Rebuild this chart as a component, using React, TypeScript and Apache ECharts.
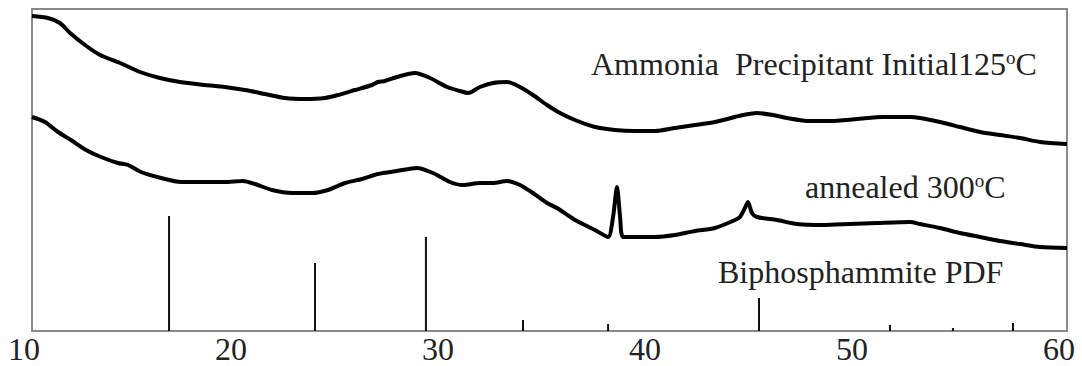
import React, { useEffect, useRef } from "react";
import * as echarts from "echarts";

// 2θ (degrees) and intensity (a.u.)
const initialX = [10.0, 10.77, 11.35, 11.84, 12.56, 13.29, 14.25, 15.22, 16.18, 17.15, 18.36, 19.32, 20.29, 21.26, 22.22, 23.19, 24.15, 24.78, 25.6, 26.43, 26.71, 27.05, 27.63, 28.5, 29.23, 30.05, 30.68, 31.06, 31.64, 32.27, 32.95, 33.57, 34.2, 34.88, 35.51, 36.23, 37.2, 38.16, 39.13, 40.1, 41.06, 42.03, 42.99, 43.96, 44.35, 45.02, 45.8, 46.47, 47.58, 48.55, 49.86, 51.11, 52.42, 52.9, 53.86, 54.83, 55.8, 56.76, 57.73, 58.7, 60.0];
const initialY = [315, 313, 308, 298, 286, 276, 268, 259, 253, 249, 246, 244, 241, 237, 233, 232, 233, 236, 241, 246, 249, 250, 254, 258, 253, 244, 240, 238, 244, 248, 249, 244, 236, 226, 218, 211, 204, 201, 200, 200, 203, 206, 209, 214, 216, 218, 216, 213, 210, 210, 212, 214, 214, 213, 209, 204, 199, 196, 193, 189, 187];

const annealedX = [10.0, 10.63, 11.26, 11.88, 12.61, 13.33, 14.15, 14.64, 15.27, 16.23, 17.2, 18.36, 19.32, 20.19, 20.77, 21.59, 22.56, 23.53, 24.3, 25.12, 25.94, 26.71, 27.63, 28.6, 29.37, 30.19, 30.82, 31.64, 32.27, 32.95, 33.57, 34.2, 34.88, 35.36, 36.23, 37.2, 37.83, 38.07, 38.26, 38.41, 38.55, 39.13, 40.1, 41.06, 42.03, 42.99, 43.96, 44.2, 44.44, 44.59, 44.78, 45.02, 45.99, 46.96, 48.21, 49.52, 50.82, 52.42, 52.9, 53.86, 54.83, 55.8, 56.76, 57.73, 58.7, 60.0];
const annealedY = [214, 209, 199, 191, 181, 174, 168, 166, 159, 153, 149, 149, 149, 150, 147, 141, 138, 138, 141, 148, 152, 157, 160, 163, 158, 149, 146, 148, 148, 150, 146, 138, 128, 123, 111, 101, 94, 114, 144, 114, 94, 94, 94, 96, 100, 103, 111, 114, 123, 129, 118, 114, 111, 107, 106, 107, 108, 109, 107, 103, 98, 94, 90, 87, 84, 83];

const pdfX = [16.62, 23.67, 29.03, 33.72, 37.83, 45.12, 51.45, 54.49, 57.39];
const pdfY = [115, 68, 94, 11, 7, 33, 6, 3, 8];

const xTicks = [10, 20, 30, 40, 50, 60];

const labelInitial = "Ammonia  Precipitant Initial125{sup|o}C";
const labelAnnealed = "annealed 300{sup|o}C";
const labelPdf = "Biphosphammite PDF";

const FONT = "'Liberation Serif', 'Times New Roman', serif";

export default function App() {
  const ref = useRef<HTMLDivElement>(null);

  useEffect(() => {
    document.body.style.margin = "0";
    if (!ref.current) return;
    const chart = echarts.init(ref.current, null, { renderer: "svg" });
    const zip = (xs: number[], ys: number[]) => xs.map((x, i) => [x, ys[i]]);
    const rich = {
      sup: { fontSize: 19, fontFamily: FONT, fill: "#222", verticalAlign: "top", padding: [0, 0, 14, 0] },
    } as any;
    const textStyle = (x: number, y: number, text: string) => ({
      type: "text",
      x,
      y,
      style: {
        text,
        fontSize: 32,
        fontFamily: FONT,
        fill: "#222",
        verticalAlign: "middle",
        rich,
      },
    });
    chart.setOption({
      animation: false,
      grid: {
        left: 32,
        right: 15,
        top: 9,
        bottom: 35,
        show: true,
        borderColor: "#8a8a8a",
        borderWidth: 2,
        backgroundColor: "#fff",
      },
      xAxis: {
        type: "value",
        min: 10,
        max: 60,
        interval: 10,
        axisLine: { show: false },
        axisTick: { show: false },
        splitLine: { show: false },
        axisLabel: {
          fontSize: 32,
          fontFamily: FONT,
          color: "#222",
          margin: 2,
          padding: [0, 16, 0, 0],
          formatter: (v: number) => (xTicks.includes(v) ? String(v) : ""),
        },
      },
      yAxis: {
        type: "value",
        min: 0,
        max: 322,
        show: false,
      },
      series: [
        {
          type: "line",
          data: zip(initialX, initialY),
          showSymbol: false,
          smooth: 0.25,
          lineStyle: { color: "#000", width: 4 },
        },
        {
          type: "line",
          data: zip(annealedX, annealedY),
          showSymbol: false,
          smooth: 0.25,
          lineStyle: { color: "#000", width: 4 },
        },
        {
          type: "bar",
          data: zip(pdfX, pdfY),
          barWidth: 2,
          itemStyle: { color: "#111" },
        },
      ],
      graphic: [
        textStyle(591, 64, labelInitial),
        textStyle(805, 187, labelAnnealed),
        textStyle(718, 272, labelPdf),
      ],
    });
    return () => chart.dispose();
  }, []);

  return (
    <div
      ref={ref}
      style={{ position: "fixed", left: 0, top: 0, width: 1082, height: 366, background: "#fff" }}
    />
  );
}
